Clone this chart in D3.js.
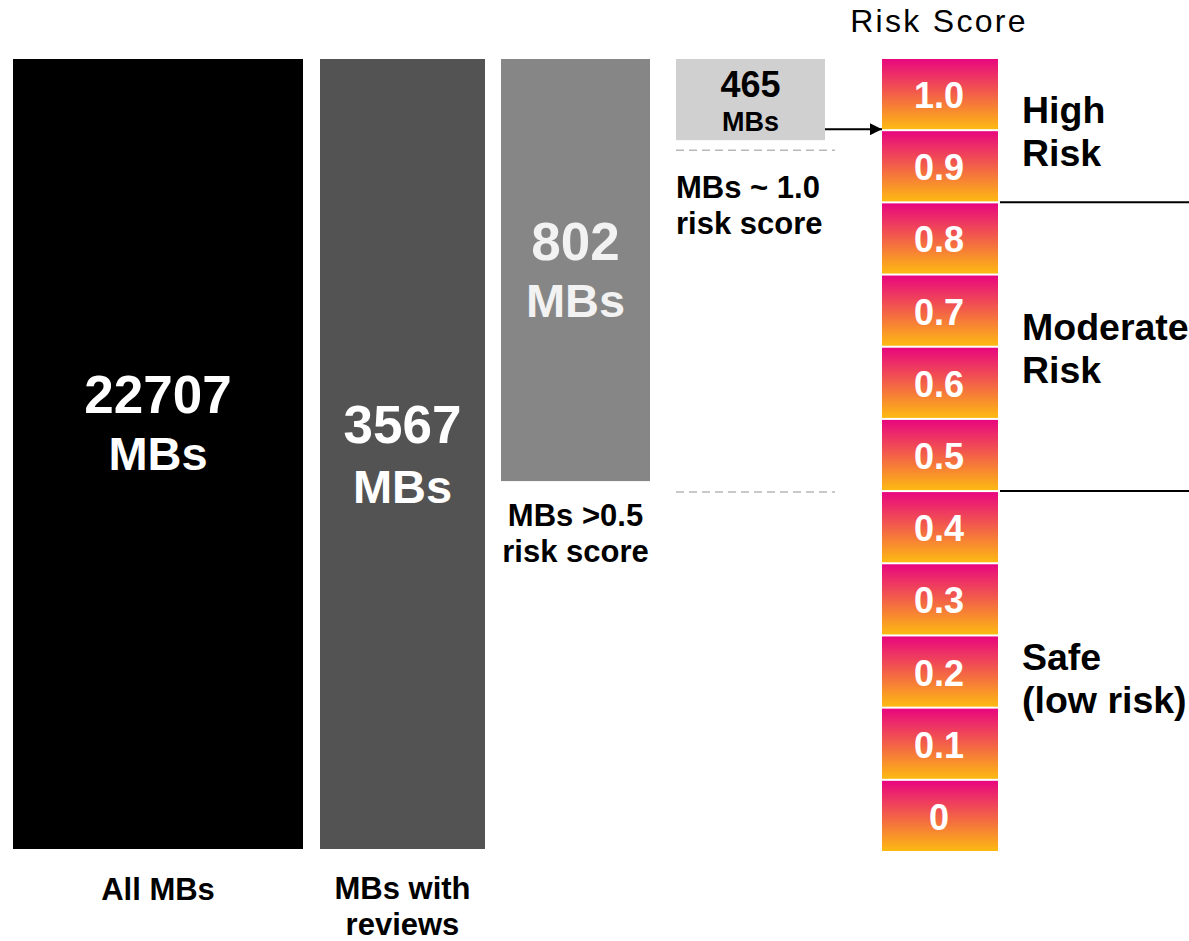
<!DOCTYPE html>
<html lang="en">
<head>
    <meta charset="UTF-8">
    <title>Risk Score funnel</title>
    <script src="https://cdn.jsdelivr.net/npm/d3@7"></script>
    <style>
        body { margin: 0; background: #fff; }
        svg { font-family: "Liberation Sans", Arial, sans-serif; display: block; }
    </style>
</head>
<body>
    <div id="chart-space"></div>

    <script>
        // data
        var stages = ["All MBs", "MBs with reviews", "MBs >0.5 risk score", "MBs ~ 1.0 risk score"];
        var counts = [22707, 3567, 802, 465];
        var scores = ["1.0", "0.9", "0.8", "0.7", "0.6", "0.5", "0.4", "0.3", "0.2", "0.1", "0"];
        var riskGroups = [
            {name: ["High", "Risk"], from: "1.0", to: "0.9"},
            {name: ["Moderate", "Risk"], from: "0.8", to: "0.5"},
            {name: ["Safe", "(low risk)"], from: "0.4", to: "0"}
        ];

        var width = 1189;
        var height = 941;
        var yTop = 59, yBottom = 849;

        var svg = d3.select("#chart-space")
            .append("svg")
            .attr("width", width)
            .attr("height", height);

        var defs = svg.append("defs");
        var grad = defs.append("linearGradient")
            .attr("id", "cellGrad")
            .attr("x1", 0).attr("y1", 0).attr("x2", 0).attr("y2", 1);
        grad.append("stop").attr("offset", "0%").attr("stop-color", "#e8067f");
        grad.append("stop").attr("offset", "100%").attr("stop-color", "#fdba12");

        defs.append("marker")
            .attr("id", "arrow")
            .attr("viewBox", "0 0 10 10")
            .attr("refX", 10).attr("refY", 5)
            .attr("markerWidth", 9).attr("markerHeight", 6)
            .attr("markerUnits", "strokeWidth")
            .attr("orient", "auto")
            .append("path")
            .attr("d", "M0,0L10,5L0,10z")
            .attr("fill", "#000");

        // risk score column
        var yScale = d3.scaleBand()
            .domain(scores)
            .range([yTop, yBottom + 2])
            .paddingInner(2 / 72)
            .paddingOuter(0);

        var cellX = 882, cellW = 116;

        var cells = svg.append("g").selectAll("g")
            .data(scores)
            .join("g");

        cells.append("rect")
            .attr("x", cellX)
            .attr("y", function(d) { return yScale(d); })
            .attr("width", cellW)
            .attr("height", yScale.bandwidth())
            .attr("fill", "url(#cellGrad)");

        cells.append("text")
            .attr("x", cellX + cellW / 2 - 1)
            .attr("y", function(d) { return yScale(d) + yScale.bandwidth() / 2 + 14; })
            .attr("text-anchor", "middle")
            .attr("fill", "#fff")
            .style("font-size", "36px")
            .style("font-weight", "bold")
            .text(function(d) { return d; });

        svg.append("text")
            .attr("x", cellX + cellW / 2 - 1)
            .attr("y", 32)
            .attr("text-anchor", "middle")
            .style("font-size", "32px")
            .style("letter-spacing", "2.3px")
            .text("Risk Score");

        // risk group labels and separators
        var groupX = 1022;
        var labelShift = [-7, -7, -2];
        riskGroups.forEach(function(g, i) {
            var y0 = yScale(g.from);
            var y1 = yScale(g.to) + yScale.bandwidth();
            var mid = (y0 + y1) / 2 + labelShift[i];
            var t = svg.append("text")
                .attr("x", groupX)
                .style("font-size", "37.5px")
                .style("font-weight", "bold");
            t.append("tspan").attr("x", groupX).attr("y", mid).text(g.name[0]);
            t.append("tspan").attr("x", groupX).attr("y", mid + 43).text(g.name[1]);
            if (i < riskGroups.length - 1) {
                svg.append("line")
                    .attr("x1", 1000).attr("x2", width)
                    .attr("y1", y1 + 1).attr("y2", y1 + 1)
                    .attr("stroke", "#000")
                    .attr("stroke-width", 2);
            }
        });

        // stage bars
        var barX = [13, 320, 501, 676];
        var barW = [290, 165, 149, 149];
        var barFill = ["#000000", "#535353", "#868686", "#d0d0d0"];
        var bandBottom = function(s) { return yScale(s) + yScale.bandwidth(); };
        var barBottom = [yBottom, yBottom, bandBottom("0.5") - 9, bandBottom("1.0") + 11];

        counts.forEach(function(c, i) {
            svg.append("rect")
                .attr("x", barX[i])
                .attr("y", yTop)
                .attr("width", barW[i])
                .attr("height", barBottom[i] - yTop)
                .attr("fill", barFill[i]);
        });

        // count labels inside bars
        var bigLabel = function(i, y, size1, size2, gap, color) {
            var cx = barX[i] + barW[i] / 2;
            svg.append("text")
                .attr("x", cx).attr("y", y)
                .attr("text-anchor", "middle")
                .attr("fill", color)
                .style("font-size", size1 + "px")
                .style("font-weight", "bold")
                .text(counts[i]);
            svg.append("text")
                .attr("x", cx).attr("y", y + gap)
                .attr("text-anchor", "middle")
                .attr("fill", color)
                .style("font-size", size2 + "px")
                .style("font-weight", "bold")
                .text("MBs");
        };
        bigLabel(0, 413, 53, 47, 57, "#fff");
        bigLabel(1, 443, 53, 47, 60, "#fff");
        bigLabel(2, 260, 53, 47, 57, "#f2f2f2");
        bigLabel(3, 97, 36, 27, 34, "#000");

        // stage captions
        var caption = function(lines, x, y, anchor) {
            var t = svg.append("text")
                .attr("text-anchor", anchor)
                .style("font-size", "31px")
                .style("font-weight", "bold");
            lines.forEach(function(l, k) {
                t.append("tspan").attr("x", x).attr("y", y + k * 36).text(l);
            });
        };
        caption(["All MBs"], barX[0] + barW[0] / 2, 900, "middle");
        caption(["MBs with", "reviews"], barX[1] + barW[1] / 2, 899, "middle");
        caption(["MBs >0.5", "risk score"], barX[2] + barW[2] / 2, 526, "middle");
        caption(["MBs ~ 1.0", "risk score"], barX[3], 198, "start");

        // dashed guides
        [bandBottom("1.0") + 21, bandBottom("0.5") + 2].forEach(function(y) {
            svg.append("line")
                .attr("x1", 676).attr("x2", 835)
                .attr("y1", y).attr("y2", y)
                .attr("stroke", "#b8b8b8")
                .attr("stroke-width", 1.5)
                .attr("stroke-dasharray", "8,5");
        });

        // arrow from 465 box to the 1.0 cell
        svg.append("line")
            .attr("x1", barX[3] + barW[3]).attr("x2", cellX)
            .attr("y1", bandBottom("1.0")).attr("y2", bandBottom("1.0"))
            .attr("stroke", "#000")
            .attr("stroke-width", 2)
            .attr("marker-end", "url(#arrow)");
    </script>
</body>
</html>
